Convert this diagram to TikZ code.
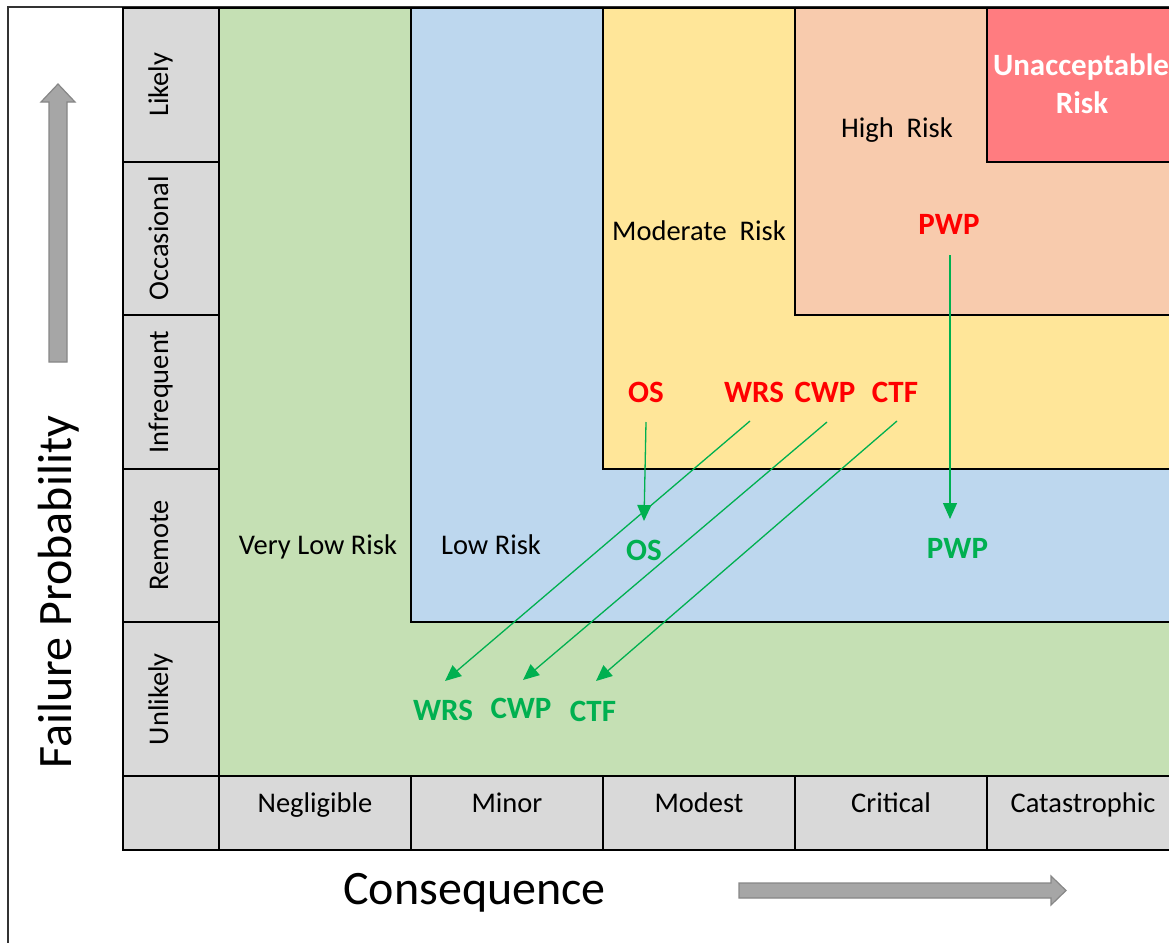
\documentclass[tikz,border=0pt]{standalone}
\usepackage{fontspec}
\setmainfont{Carlito}
\usetikzlibrary{arrows.meta}
\definecolor{rgreen}{HTML}{C5E0B4}
\definecolor{rblue}{HTML}{BDD7EE}
\definecolor{ryellow}{HTML}{FFE699}
\definecolor{rpeach}{HTML}{F8CBAD}
\definecolor{rred}{HTML}{FF7C80}
\definecolor{cellgray}{HTML}{D9D9D9}
\definecolor{mgreen}{HTML}{00B050}
\definecolor{mred}{HTML}{FF0000}
\definecolor{bafill}{HTML}{A6A6A6}
\definecolor{badraw}{HTML}{878787}
\tikzset{
  gridline/.style={line width=2pt, black},
  lbl/.style={font=\fontsize{28.5}{34}\selectfont, inner sep=0pt, anchor=base},
  rowlbl/.style={lbl, rotate=90},
  tagred/.style={font=\fontsize{31}{37}\selectfont\bfseries, text=mred, inner sep=0pt, anchor=base},
  taggreen/.style={font=\fontsize{31}{37}\selectfont\bfseries, text=mgreen, inner sep=0pt, anchor=base},
  unacc/.style={font=\fontsize{31}{37}\selectfont\bfseries, text=white, inner sep=0pt, anchor=base},
  axislbl/.style={font=\fontsize{48}{56}\selectfont, inner sep=0pt, anchor=base},
  conn/.style={draw=mgreen, line width=1.3pt, -{Triangle[length=16pt,width=14pt]}},
  blockarrow/.style={fill=bafill, draw=badraw, line width=1.2pt, line join=miter}
}
\begin{document}
\begin{tikzpicture}[x=1pt,y=-1pt]
\useasboundingbox (0,0) rectangle (1169,942);
% risk regions
\fill[rgreen] (219,8) rectangle (1169,776);
\fill[rblue] (411,8) rectangle (1169,622.4);
\fill[ryellow] (603,8) rectangle (1169,468.8);
\fill[rpeach] (795,8) rectangle (1169,315.2);
\fill[rred] (987,8) rectangle (1169,161.6);
\draw[gridline] (411,8) |- (1170,622.4);
\draw[gridline] (603,8) |- (1170,468.8);
\draw[gridline] (795,8) |- (1170,315.2);
\draw[gridline] (987,8) |- (1170,161.6);
% table cells
\fill[cellgray] (123,8) rectangle (219,850);
\fill[cellgray] (219,776) rectangle (1170,850);
\draw[gridline] (123,8) -- (123,851);
\draw[gridline] (219,8) -- (219,851);
\foreach \yy in {161.6,315.2,468.8,622.4} \draw[gridline] (123,\yy) -- (219,\yy);
\draw[gridline] (122,776) -- (1170,776);
\draw[gridline] (122,850) -- (1170,850);
\foreach \xx in {411,603,795,987} \draw[gridline] (\xx,776) -- (\xx,850);
% frame
\draw[line width=1.5pt, black!80] (8,943) -- (8,7) -- (1170,7);
\draw[gridline] (122,8) -- (1170,8);
% row labels
\node[rowlbl] (rlikely) at (168,84.8) {Likely};
\node[rowlbl] (rocc) at (168,238.4) {Occasional};
\node[rowlbl] (rinf) at (168,392) {Infrequent};
\node[rowlbl] (rrem) at (168,545.6) {Remote};
\node[rowlbl] (runl) at (168,699.2) {Unlikely};
% column labels
\node[lbl] (cneg) at (315,812) {Negligible};
\node[lbl] (cmin) at (507,812) {Minor};
\node[lbl] (cmod) at (699,812) {Modest};
\node[lbl] (ccri) at (891,812) {Critical};
\node[lbl] (ccat) at (1083,812) {Catastrophic};
% region labels
\node[lbl] (lvlow) at (318,554) {Very Low Risk};
\node[lbl] (llow) at (491,554) {Low Risk};
\node[lbl] (lmod) at (699,240) {Moderate\ \ Risk};
\node[lbl] (lhigh) at (897,137) {High\ \ Risk};
\node[unacc] (lun1) at (1081,75) {Unacceptable};
\node[unacc] (lun2) at (1082,113) {Risk};
% axis titles
\node[axislbl, rotate=90] (yaxis) at (71,592) {Failure Probability};
\node[axislbl] (xaxis) at (474.5,904) {Consequence};
\draw[blockarrow] (49,362) -- (49,102) -- (41,102) -- (58,84) -- (75,102) -- (67,102) -- (67,362) -- cycle;
\draw[blockarrow] (739,883) -- (1051,883) -- (1051,876) -- (1066,890.5) -- (1051,905) -- (1051,898) -- (739,898) -- cycle;
% current positions (red)
\node[tagred] (rpwp) at (949,234) {PWP};
\node[tagred] (ros) at (646,402) {OS};
\node[tagred] (rwrs) at (754,402) {WRS};
\node[tagred] (rcwp) at (825,402) {CWP};
\node[tagred] (rctf) at (895,402) {CTF};
% mitigated positions (green)
\node[taggreen] (gpwp) at (957.5,558) {PWP};
\node[taggreen] (gos) at (644,560) {OS};
\node[taggreen] (gwrs) at (443,720) {WRS};
\node[taggreen] (gcwp) at (521,718) {CWP};
\node[taggreen] (gctf) at (593,721) {CTF};
% connector end points
\coordinate (spwp) at (950,255);
\coordinate (epwp) at (950,519);
\coordinate (sos) at (646,422);
\coordinate (eos) at (644,521);
\coordinate (swrs) at (750,421);
\coordinate (ewrs) at (445,681);
\coordinate (scwp) at (827,422);
\coordinate (ecwp) at (523,680);
\coordinate (sctf) at (897,421);
\coordinate (ectf) at (596,681);
\draw[conn] (spwp) -- (epwp);
\draw[conn] (sos) -- (eos);
\draw[conn] (swrs) -- (ewrs);
\draw[conn] (scwp) -- (ecwp);
\draw[conn] (sctf) -- (ectf);
\end{tikzpicture}
\end{document}
